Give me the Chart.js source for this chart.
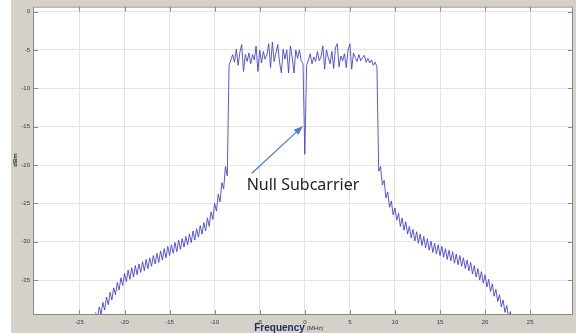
<!DOCTYPE html>
<html>
<head>
  <title>OFDM spectrum - null subcarrier</title>
  <style>
    body { margin: 0; background: #fff; }
    #wrap { position: relative; width: 576px; height: 333px; }
  </style>
</head>
<body>
  <div id="wrap">
    <canvas id="spectrum" width="576" height="333"></canvas>
  </div>

  <script src="https://cdn.jsdelivr.net/npm/chart.js"></script>
  <script>
    // spectrum analyser trace, one value every 0.2 MHz
    const binMHz = 0.2;

    const leftSkirtStart = -23.2;
    const leftSkirtDbm = [
      -39.2, -40.1, -38.5, -39.5, -37.9, -38.9, -37.2, -38.2, -36.6, -37.6,
      -36.0, -36.9, -35.3, -36.3, -34.7, -35.7, -34.1, -35.2, -33.7, -34.9,
      -33.4, -34.6, -33.1, -34.3, -32.9, -34.0, -32.6, -33.8, -32.3, -33.5,
      -32.1, -33.2, -31.8, -32.9, -31.5, -32.7, -31.2, -32.4, -30.9, -32.1,
      -30.6, -31.8, -30.4, -31.5, -30.1, -31.3, -29.8, -31.0, -29.6, -30.7,
      -29.3, -30.4, -29.0, -30.1, -28.6, -29.8, -28.3, -29.4, -27.9, -29.0,
      -27.5, -28.6, -26.9, -28.0, -26.1, -27.1, -25.0, -26.0, -23.8, -24.8,
      -22.3, -23.1, -20.2, -21.4
    ];

    const passbandStart = -8.4;
    const passbandDbm = [
      -7.0, -6.3, -5.6, -6.6, -4.9, -7.0, -5.3, -4.3, -7.8, -5.6,
      -6.5, -5.4, -6.8, -5.6, -6.3, -4.5, -7.8, -5.0, -6.7, -5.2,
      -6.2, -5.6, -4.2, -7.3, -4.0, -6.5, -5.4, -4.3, -6.6, -8.0,
      -4.9, -6.2, -5.0, -8.0, -4.5, -6.0, -8.0, -5.0, -6.1, -5.0,
      -6.4, -6.8,
      -18.6, // DC null subcarrier
      -7.0, -6.3, -5.5, -6.8, -5.9, -6.5, -5.2, -6.4, -5.9, -4.5,
      -7.5, -5.0, -6.0, -6.8, -5.2, -7.4, -4.7, -4.2, -7.2, -5.8,
      -6.4, -5.5, -7.3, -5.0, -4.2, -7.5, -5.4, -6.0, -6.5, -5.6,
      -6.4, -6.0, -5.7, -6.6, -6.1, -6.7, -6.3, -7.0, -6.6, -7.2
    ];

    const rightSkirtStart = 8.2;
    const rightSkirtDbm = [
      -20.8, -20.2, -22.6, -22.0, -24.3, -23.5, -25.5, -24.7, -26.5, -25.6,
      -27.2, -26.3, -28.0, -26.9, -28.5, -27.4, -29.0, -28.0, -29.5, -28.4,
      -29.9, -28.7, -30.2, -29.0, -30.5, -29.3, -30.8, -29.6, -31.1, -29.9,
      -31.4, -30.2, -31.6, -30.4, -31.8, -30.6, -32.0, -30.9, -32.3, -31.1,
      -32.5, -31.3, -32.8, -31.6, -33.0, -31.8, -33.2, -32.1, -33.5, -32.4,
      -33.8, -32.7, -34.2, -33.1, -34.6, -33.5, -35.0, -33.9, -35.4, -34.3,
      -35.9, -34.9, -36.5, -35.5, -37.1, -36.2, -37.8, -36.9, -38.5, -37.6,
      -39.2, -38.3, -40.0, -39.1, -40.8
    ];

    const xTicks = [-25, -20, -15, -10, -5, 0, 5, 10, 15, 20, 25];
    const yTicks = [0, -5, -10, -15, -20, -25, -30, -35];

    // annotation, in data units
    const noteText = 'Null Subcarrier';
    const noteAt = { x: -0.2, y: -22.6 };
    const arrowFrom = { x: -5.9, y: -21.1 };
    const arrowTo = { x: -0.2, y: -14.9 };

    const segments = [
      [leftSkirtStart, leftSkirtDbm],
      [passbandStart, passbandDbm],
      [rightSkirtStart, rightSkirtDbm]
    ];
    const points = segments.flatMap(([f0, vals]) =>
      vals.map((v, i) => ({ x: +(f0 + i * binMHz).toFixed(2), y: v })));

    // grey window frame + white plot box
    const framePlugin = {
      id: 'frame',
      beforeDraw(chart) {
        const { ctx, chartArea: a } = chart;
        ctx.save();
        ctx.fillStyle = '#fff';
        ctx.fillRect(0, 0, chart.width, chart.height);
        ctx.fillStyle = '#d5d1c9';
        ctx.fillRect(11, 0, chart.width - 11, chart.height);
        ctx.fillStyle = '#fff';
        ctx.fillRect(a.left, a.top, a.right - a.left, a.bottom - a.top);
        ctx.restore();
      },
      afterDraw(chart) {
        const { ctx, chartArea: a, scales } = chart;
        ctx.save();
        // inward tick marks, matlab style
        ctx.strokeStyle = '#8c8c8c';
        ctx.lineWidth = 1;
        ctx.beginPath();
        yTicks.forEach(v => {
          const py = Math.round(scales.y.getPixelForValue(v)) + 0.5;
          ctx.moveTo(a.left, py); ctx.lineTo(a.left + 5, py);
          ctx.moveTo(a.right, py); ctx.lineTo(a.right - 5, py);
        });
        xTicks.forEach(v => {
          const px = Math.round(scales.x.getPixelForValue(v)) + 0.5;
          ctx.moveTo(px, a.bottom); ctx.lineTo(px, a.bottom - 5);
          ctx.moveTo(px, a.top); ctx.lineTo(px, a.top + 5);
        });
        ctx.stroke();
        ctx.strokeStyle = '#8a8a8a';
        ctx.strokeRect(a.left + 0.5, a.top + 0.5, a.right - a.left - 1, a.bottom - a.top - 1);

        // axis labels
        const x0 = scales.x.getPixelForValue(0);
        ctx.fillStyle = '#1f2d6b';
        ctx.font = 'bold 10px "Liberation Sans", Arial, sans-serif';
        ctx.textAlign = 'right';
        ctx.textBaseline = 'alphabetic';
        ctx.fillText('Frequency', x0, 330.5);
        ctx.fillStyle = '#333';
        ctx.font = '6px "Liberation Sans", Arial, sans-serif';
        ctx.textAlign = 'left';
        ctx.fillText('(MHz)', x0 + 2, 330);

        ctx.translate(15, 160);
        ctx.rotate(-Math.PI / 2);
        ctx.textAlign = 'center';
        ctx.textBaseline = 'middle';
        ctx.font = 'bold 6px "Liberation Sans", Arial, sans-serif';
        ctx.fillText('dBm', 0, 0);
        ctx.restore();

        // arrow + note
        ctx.save();
        const fx = scales.x.getPixelForValue(arrowFrom.x), fy = scales.y.getPixelForValue(arrowFrom.y);
        const tx = scales.x.getPixelForValue(arrowTo.x), ty = scales.y.getPixelForValue(arrowTo.y);
        const ang = Math.atan2(ty - fy, tx - fx);
        const head = 10;
        ctx.strokeStyle = '#4a7ccc';
        ctx.fillStyle = '#4a7ccc';
        ctx.lineWidth = 1.2;
        ctx.beginPath();
        ctx.moveTo(fx, fy);
        ctx.lineTo(tx - head * 0.8 * Math.cos(ang), ty - head * 0.8 * Math.sin(ang));
        ctx.stroke();
        ctx.beginPath();
        ctx.moveTo(tx, ty);
        ctx.lineTo(tx - head * Math.cos(ang - 0.35), ty - head * Math.sin(ang - 0.35));
        ctx.lineTo(tx - head * Math.cos(ang + 0.35), ty - head * Math.sin(ang + 0.35));
        ctx.closePath();
        ctx.fill();

        ctx.fillStyle = '#222';
        ctx.font = '16px "Noto Sans", "Open Sans", sans-serif';
        ctx.textAlign = 'center';
        ctx.textBaseline = 'middle';
        ctx.fillText(noteText, scales.x.getPixelForValue(noteAt.x), scales.y.getPixelForValue(noteAt.y));
        ctx.restore();
      }
    };

    const tickFont = { family: '"Liberation Sans", Arial, sans-serif', size: 6 };

    new Chart(document.getElementById('spectrum'), {
      type: 'line',
      data: {
        datasets: [{
          data: points,
          borderColor: 'rgba(60, 60, 212, 0.85)',
          borderWidth: 1,
          pointRadius: 0,
          tension: 0
        }]
      },
      options: {
        responsive: false,
        animation: false,
        events: [],
        layout: { padding: { left: 0, top: 6, right: 3, bottom: 0 } },
        plugins: { legend: { display: false }, tooltip: { enabled: false } },
        scales: {
          x: {
            type: 'linear',
            min: -30.15,
            max: 29.75,
            afterFit: s => { s.height = 18; },
            afterBuildTicks: s => { s.ticks = xTicks.map(v => ({ value: v })); },
            grid: { color: '#e4e4e4', drawTicks: false },
            border: { display: false },
            ticks: { font: tickFont, color: '#3a3a3a', padding: 4, maxRotation: 0, autoSkip: false }
          },
          y: {
            min: -39.55,
            max: 0.65,
            afterFit: s => { s.width = 33; },
            afterBuildTicks: s => { s.ticks = yTicks.map(v => ({ value: v })); },
            grid: { color: '#e4e4e4', drawTicks: false },
            border: { display: false },
            ticks: { font: tickFont, color: '#3a3a3a', padding: 3, autoSkip: false }
          }
        }
      },
      plugins: [framePlugin]
    });
  </script>
</body>
</html>
